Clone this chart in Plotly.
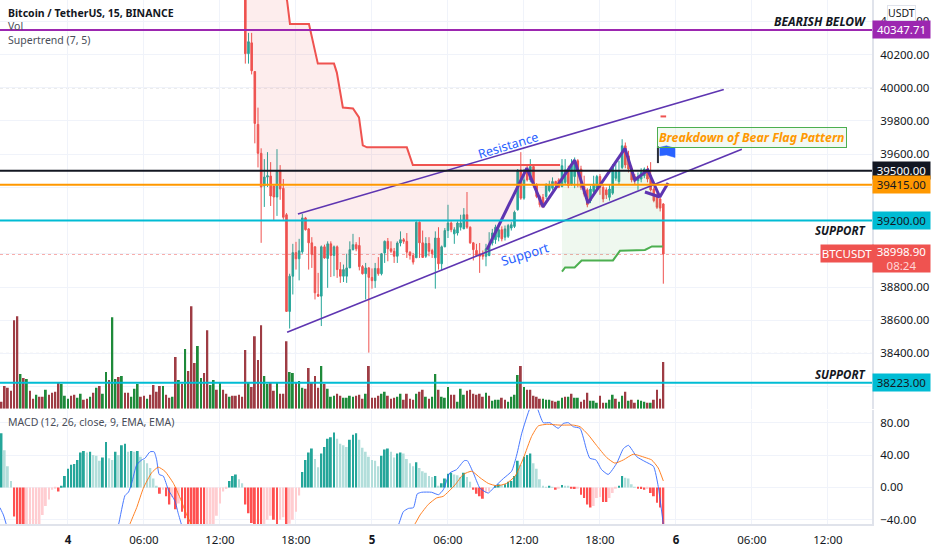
import plotly.graph_objects as go

# ---------------- data ----------------
opens = [40700,40205,40270,40097,39779,39605,39408,39462,39468,39408,39342,39498,39394,39235,38653,38865,39007,38970,39012,39216,
 39150,39066,39042,38755,38745,39042,38972,39060,38990,39042,38905,38865,38865,38915,39025,39055,39050,38923,38880,38915,
 38858,38838,38912,38880,39005,39075,39030,39015,38985,39065,39085,39075,39010,38990,38976,39190,39066,38985,39062,39020,
 38976,39095,38940,39042,39140,39185,39120,39125,39160,39150,39235,39160,39066,39020,39000,38995,38985,38990,39065,39085,
 39100,39145,39100,39105,39155,39165,39265,39504,39335,39504,39445,39525,39415,39345,39340,39345,39380,39395,39435,39445,
 39405,39430,39505,39420,39465,39560,39510,39405,39385,39320,39375,39395,39465,39400,39385,39340,39365,39455,39435,39520,
 39650,39590,39515,39465,39440,39450,39470,39510,39470,39390,39350,39330,39300]
closes = [40205,40277,40102,39785,39605,39402,39462,39470,39348,39342,39498,39390,39220,38653,38865,39007,38970,39018,39216,39145,
 39066,38995,38765,38745,39042,38975,39060,38990,39042,38905,38865,38905,38915,39025,39055,39030,38923,38880,38915,38858,
 38838,38912,38880,39000,39075,39030,39015,38985,39065,39085,39075,39010,38990,38950,39190,39066,38978,39062,39015,39000,
 39095,38940,39042,39140,39185,39145,39145,39185,39185,39235,39160,39066,39025,38990,38985,38985,39030,39050,39125,39160,
 39145,39090,39150,39170,39175,39250,39504,39335,39445,39445,39525,39415,39345,39295,39290,39415,39415,39435,39415,39400,
 39530,39505,39410,39530,39560,39505,39400,39360,39295,39390,39420,39465,39400,39330,39355,39390,39522,39495,39500,39650,
 39535,39510,39445,39440,39465,39490,39510,39450,39385,39320,39280,39275,38999]
highs = [40800,40330,40330,40100,39880,39635,39570,39612,39552,39410,39630,39534,39450,39245,38880,39060,39072,39090,39240,39222,
 39155,39100,39045,38885,39050,39055,39075,39075,39050,39050,38950,38935,39000,39075,39120,39070,39100,38932,38945,38920,
 38912,38945,38980,39005,39080,39095,39075,39035,39075,39135,39095,39125,39015,39005,39195,39195,39140,39100,39100,39030,
 39135,39160,39050,39155,39295,39195,39160,39195,39235,39275,39372,39165,39070,39060,39065,39020,39060,39130,39150,39175,
 39175,39165,39170,39180,39190,39260,39510,39612,39510,39530,39570,39530,39425,39355,39360,39425,39440,39460,39440,39455,
 39570,39570,39530,39570,39580,39570,39530,39470,39395,39410,39470,39475,39480,39420,39400,39420,39540,39540,39560,39690,
 39670,39620,39530,39480,39490,39515,39520,39530,39552,39400,39365,39340,39305]
lows = [40145,40145,40080,39665,39520,39066,39282,39402,39288,39204,39228,39325,39205,38650,38550,38755,38905,38840,39000,39140,
 38905,38915,38725,38740,38565,38970,38795,38860,38865,38855,38825,38830,38825,38915,39020,39015,38900,38875,38725,38405,
 38790,38795,38868,38870,38945,38955,39005,38945,38945,39045,39060,38975,38965,38935,38976,38975,38975,38975,38985,38975,
 38790,38905,38900,39040,39095,39130,39060,39110,39140,39150,39150,39060,38960,38985,38885,38965,38925,38985,39050,39060,
 39075,39075,39080,39095,39140,39155,39260,39325,39325,39435,39430,39400,39335,39280,39275,39330,39370,39385,39405,39395,
 39400,39420,39395,39410,39395,39400,39385,39345,39280,39305,39360,39380,39355,39310,39330,39320,39355,39440,39420,39510,
 39515,39490,39430,39420,39385,39430,39455,39430,39375,39310,39270,39255,38820]

vol_signed = [-7,-23,-21,-18,-89,-93,35,-31,30,-18,-10,14,-12,-12,19,-14,-16,-17,-26,25,13,10,-13,-14,11,15,-9,-10,12,-16,21,-23,15,37,-29,92,30,-32,33,-16,-16,12,20,25,-12,-13,10,-14,-24,-17,-23,23,-14,-11,12,-52,29,-25,60,-38,-103,-46,63,31,-36,-79,24,29,-19,27,-19,-15,12,-13,-13,-14,-12,-59,26,-22,-73,-49,-84,33,25,-27,-18,26,-15,-15,-68,37,36,-27,28,21,-20,-41,-27,-33,-21,43,-25,20,12,13,-15,
 -13,11,11,13,12,-13,-14,-10,15,-43,-11,-11,-13,15,17,-13,-10,-11,12,15,-9,-15,-10,-9,15,-17,-19,12,-10,12,35,-19,12,11,22,-14,-14,7,20,14,-18,-19,-15,-14,-15,-12,16,-13,8,9,9,-11,-9,7,12,14,34,-43,22,-19,-19,-13,-12,-10,10,9,9,-8,-7,8,11,-12,12,-15,11,11,-7,-9,-16,8,8,6,-13,-6,6,9,14,-10,7,13,-17,8,-9,-6,9,8,7,-6,6,-9,-19,-10,-47]

macd_hist = [67,46,26,8,-36,-48,-50,-52,-50,-49,-48,-47,-46,-34,-23,-15,-3,-1,-5,2,14,23,28,29,34,43,45,43,44,40,39,33,37,56,36,34,44,40,52,54,44,45,44,45,38,34,30,24,11,1,-8,-3,-11,-21,-12,-27,-20,-30,-38,-47,-50,-52,-54,-55,-56,-53,-48,-47,-35,-20,-5,-2,8,14,16,10,5,-21,-32,-44,-47,-48,-49,-47,-40,-35,-40,-47,-40,-37,-47,-45,-40,-30,-10,19,34,43,48,35,25,42,50,60,62,68,60,
 54,52,50,59,65,67,59,49,44,38,34,33,26,39,47,48,44,37,42,43,42,35,30,26,31,24,20,18,14,13,14,1,5,11,17,18,16,15,13,18,13,7,-3,-8,-11,-14,-7,-5,0,2,4,3,4,7,8,14,33,28,38,40,42,30,23,10,2,0.5,1,0.3,-3,-1,3,2,1,-1,-2,-1,-9,-13,-21,-25,-23,-13,-12,-18,-18,-13,-7,-1,2,14,12,11,4,0.5,-1,-2,-3,-2,-7,-11,-19,-25,-50]

macd_x = [-21.5,-20.4,-19.4,-18,14,15.9,18,19.1,20.1,21.7,23.3,24.3,25.9,27.2,28,28.8,30.1,31.7,33.8,34.8,35.9,38,100,104.3,105.9,107.5,109.1,110.3,111.7,114.8,117,118.5,120.6,122.7,125.1,126.1,128,130.1,132.7,134.8,137.5,140.1,141.7,143.3,145.9,147.2,148.2,150.1,152.2,154.8,156.4,158,159.6,161.7,163.8,164.8,166.7,168.5,170.6,173.3,175.4,177,179.6,182.2,184.9,186.4,188]
macd_v = [-25,-34,-47,-70,-70,-47,-10,-6,5,28,34,36,44,44,34,16,14,-3,-17,-32,-47,-80,-80,-47,-30,-26,-25,-8,-6,-6,-9,-3,18,22,33,33,18,-1,-7,1,11,20,40,67,98,104,98,80,80,73,79,80,75,73,46,36,34,22,16,30,48,52,38,32,26,1,-46]
signal_x = [17,19.4,21.7,23.8,26.4,28.5,30.6,33.3,35.4,37.5,39.1,42,103,109.3,111.2,113.8,116.4,118.5,122.2,124.8,127.5,130.1,132.7,135.4,138.5,141.2,143.8,146.4,148.5,151.2,155.4,159.6,161.7,164.3,166.9,170.1,172.7,175.4,178.5,182.2,184.3,186.4,188]
signal_v = [-80,-47,-25,-1,18,25,20,5,-13,-34,-47,-80,-80,-47,-34,-21,-13,-11,3,16,20,12,5,2,5,14,36,63,76,78,77,77,75,65,52,37,30,34,41,37,34,24,8]

st_red_x = [56,66,69.2,70.1,76.1,77.4,78.9,84,84.9,86.8,90,91.9,93.1,94.4,107,108.9,155.4]
st_red_v = [40800,40800,40522,40384,40384,40264,40145,40145,40091,39881,39875,39821,39653,39641,39641,39534,39534]
st_green_x = [156,157,160,162.2,172.1,174.3,182.2,184.4,187.8]
st_green_v = [38893,38918,38918,38960,38960,39018,39023,39044,39044]

resistance_x, resistance_v = [72.6,207.1], [39240,39989]
support_x, support_v = [69.2,212.8], [38527,39630]
zigzag_x = [132.3,144.9,150,160,164.2,175.9,179,183.1,186.9,189.5]
zigzag_v = [39025,39516,39282,39564,39306,39635,39444,39504,39342,39426]
hook_x, hook_v = [182.2,186.9], [39372,39342]
flag_x = [186.9,189,191.7,191.7,189,186.9,186.9]
flag_v = [39641,39650,39635,39580,39595,39590,39641]
pole_x, pole_v = [186.3,186.3], [39647,39546]

levels = [40347.71,39500,39415,39200,38223]
level_colors = ["#9c27b0","#131722","#ff9800","#00bcd4","#00bcd4"]
level_text = ["#ffffff","#ffffff","#131722","#131722","#131722"]
last_price = 38998.90
x_tick_vals = [0,24,48,72,96,120,144,168,192,216,240]
x_tick_text = ["<b>4</b>","06:00","12:00","18:00","<b>5</b>","06:00","12:00","18:00","<b>6</b>","06:00","12:00"]
price_ticks = [38200,38400,38600,38800,39000,39200,39400,39600,39800,40000,40200,40400]
price_tick_text = ["38200.00","38400.00","38600.00","38800.00","","","","39600.00","39800.00","40000.00","40200.00","40400.00"]
macd_ticks = [-40,0,40,80]

# ---------------- styling / layout ----------------
W, H, PR = 932, 550, 872
FONT = "Noto Sans"
INK = "#131722"
GRID = "#f0f3fa"
UP, DOWN = "#26a69a", "#ef5350"
PURPLE = "#5e35b1"

n_c = len(opens)
cx = list(range(189 - n_c, 189))
mid = [(o + c) / 2 for o, c in zip(opens, closes)]
vx = list(range(189 - len(vol_signed), 189))
hx = list(range(189 - len(macd_hist), 189))

hist_colors = []
for k, v in enumerate(macd_hist):
    prev = macd_hist[k - 1] if k else v
    if v >= 0:
        hist_colors.append("#26a69a" if v >= prev else "#b2dfdb")
    else:
        hist_colors.append("#ff5252" if v <= prev else "#ffcdd2")

fig = go.Figure()
red_mid = [(x, m) for x, m in zip(cx, mid) if x <= 155]
green_mid = [(x, m) for x, m in zip(cx, mid) if x >= 156]

fig.add_trace(go.Scatter(x=[p[0] for p in red_mid], y=[p[1] for p in red_mid], mode="lines", line=dict(width=0), hoverinfo="skip"))
fig.add_trace(go.Scatter(x=st_red_x, y=st_red_v, mode="lines", line=dict(color="rgba(0,0,0,0)", width=0), fill="tonexty", fillcolor="rgba(239,83,80,0.10)", hoverinfo="skip"))
fig.add_trace(go.Scatter(x=[p[0] for p in green_mid], y=[p[1] for p in green_mid], mode="lines", line=dict(width=0), hoverinfo="skip"))
fig.add_trace(go.Scatter(x=st_green_x, y=st_green_v, mode="lines", line=dict(color="rgba(0,0,0,0)", width=0), fill="tonexty", fillcolor="rgba(76,175,80,0.09)", hoverinfo="skip"))
fig.add_trace(go.Scatter(x=st_red_x, y=st_red_v, mode="lines", line=dict(color="#ef5350", width=2), hoverinfo="skip"))
fig.add_trace(go.Scatter(x=st_green_x, y=st_green_v, mode="lines", line=dict(color="#4caf50", width=2), hoverinfo="skip"))

fig.add_trace(go.Candlestick(x=cx, open=opens, high=highs, low=lows, close=closes,
    increasing=dict(line=dict(color=UP, width=1), fillcolor=UP),
    decreasing=dict(line=dict(color=DOWN, width=1), fillcolor=DOWN), whiskerwidth=0, hoverinfo="skip"))

fig.add_trace(go.Scatter(x=[188], y=[39827], mode="markers", marker=dict(symbol="line-ew", size=4, line=dict(color="#ef5350", width=2)), hoverinfo="skip"))
fig.add_trace(go.Scatter(x=resistance_x, y=resistance_v, mode="lines", line=dict(color=PURPLE, width=1.6), hoverinfo="skip"))
fig.add_trace(go.Scatter(x=support_x, y=support_v, mode="lines", line=dict(color=PURPLE, width=1.6), hoverinfo="skip"))
fig.add_trace(go.Scatter(x=zigzag_x, y=zigzag_v, mode="lines", line=dict(color=PURPLE, width=3), hoverinfo="skip"))
fig.add_trace(go.Scatter(x=hook_x, y=hook_v, mode="lines", line=dict(color=PURPLE, width=3), hoverinfo="skip"))
fig.add_trace(go.Scatter(x=pole_x, y=pole_v, mode="lines", line=dict(color="#2a2e39", width=2), hoverinfo="skip"))
fig.add_trace(go.Scatter(x=flag_x, y=flag_v, mode="lines", line=dict(color="#2962ff", width=0.5), fill="toself", fillcolor="#2962ff", hoverinfo="skip"))

fig.add_trace(go.Bar(x=vx, y=[abs(v) for v in vol_signed], yaxis="y3", width=0.6,
    marker=dict(color=["#1e8a3a" if v > 0 else "#9e3c44" for v in vol_signed], line=dict(width=0)), hoverinfo="skip"))

fig.add_trace(go.Bar(x=hx, y=macd_hist, yaxis="y2", width=0.62,
    marker=dict(color=hist_colors, line=dict(width=0)), hoverinfo="skip"))
fig.add_trace(go.Scatter(x=macd_x, y=macd_v, yaxis="y2", mode="lines", line=dict(color="#2962ff", width=1, shape="spline", smoothing=0.5), hoverinfo="skip", opacity=0.85))
fig.add_trace(go.Scatter(x=signal_x, y=signal_v, yaxis="y2", mode="lines", line=dict(color="#ff6d00", width=1, shape="spline", smoothing=0.5), hoverinfo="skip", opacity=0.85))

shapes = []
for v, c in zip(levels, level_colors):
    shapes.append(dict(type="line", xref="paper", yref="y", x0=0, x1=PR / W, y0=v, y1=v, line=dict(color=c, width=2)))
shapes.append(dict(type="line", xref="paper", yref="y", x0=0, x1=PR / W, y0=last_price, y1=last_price, layer="below", line=dict(color="#ef5350", width=1, dash="dot")))
for v in [40000, 38400]:
    shapes.append(dict(type="line", xref="paper", yref="y", x0=0, x1=PR / W, y0=v, y1=v, layer="below", line=dict(color="#9598a1", width=1, dash="dot")))

ann = []
def label(text, px, py, size=10.5, bold=False, color="#4a4e59"):
    ann.append(dict(xref="paper", yref="paper", x=px / W, y=1 - py / H, xanchor="left", yanchor="middle",
                    text=f"<b>{text}</b>" if bold else text, showarrow=False, font=dict(family=FONT, size=size, color=INK if bold else color)))

label("Bitcoin / TetherUS, 15, BINANCE", 6, 13, bold=True)
label("Vol", 6, 26)
label("Supertrend (7, 5)", 6, 40)
label("MACD (12, 26, close, 9, EMA, EMA)", 6, 424)

def note(text, x, y, color=INK, size=12, angle=0, **kw):
    ann.append(dict(xref="x", yref="y", x=x, y=y, text=text, showarrow=False, textangle=angle, font=dict(family=FONT, size=size, color=color), **kw))

note("<b><i>BEARISH BELOW</i></b>", 237.4, 40396, size=12)
note("<b><i>SUPPORT</i></b>", 244, 39138, size=11.5)
note("<b><i>SUPPORT</i></b>", 244, 38276, size=11.5)
note("Resistance", 138.9, 39654, color="#2962ff", angle=-17, size=12.5)
note("Support", 144.3, 39001, color="#2962ff", angle=-17, size=13)
note("<b><i>Breakdown of Bear Flag Pattern</i></b>", 216, 39702, color="#ff9800", size=12.3,
     bgcolor="rgba(76,175,80,0.07)", bordercolor="#4caf50", borderwidth=1, borderpad=1)

def chip(text, y, bg, fg, h=15, yshift=0, x0=PR, w=55):
    ann.append(dict(xref="paper", yref="y", x=x0 / W, y=y, xanchor="left", yanchor="middle", width=w, height=h, yshift=yshift,
                    text=text, showarrow=False, align="center", valign="middle", bgcolor=bg, font=dict(family=FONT, size=11.5, color=fg)))

for v, c, t in zip(levels, level_colors, level_text):
    chip(f"{v:.2f}", v, c, t)
chip(f'{last_price:.2f}<br><span style="color:#ffd6d5">08:24</span>', last_price, "#ef5350", "#ffffff", h=25, yshift=-5)
chip("BTCUSDT", last_price, "#ef5350", "#ffffff", x0=820, w=50)
ann.append(dict(xref="paper", yref="paper", x=901 / W, y=1 - 13 / H, xanchor="center", yanchor="middle", text="USDT", showarrow=False, bgcolor="#ffffff", bordercolor="#e0e3eb", borderwidth=1, borderpad=0,
                font=dict(family=FONT, size=10.5, color=INK)))

axis_font = dict(family=FONT, size=11.5, color=INK)
fig.update_layout(
    width=W, height=H, margin=dict(l=0, r=0, t=0, b=0), paper_bgcolor="#ffffff", plot_bgcolor="#ffffff",
    showlegend=False, barmode="overlay", shapes=shapes, annotations=ann, font=dict(family=FONT), hovermode=False,
    xaxis=dict(domain=[0, PR / W], range=[-21.47, 253.9], anchor="y2", tickmode="array", tickvals=x_tick_vals, ticktext=x_tick_text,
               showgrid=True, gridcolor=GRID, gridwidth=1, zeroline=False, tickfont=axis_font, ticks="outside", ticklen=4, tickcolor="#ffffff",
               showline=True, linecolor="#e0e3eb", linewidth=2, rangeslider=dict(visible=False)),
    yaxis=dict(domain=[1 - 411 / H, 1], range=[38067, 40528], side="right", anchor="x", tickmode="array", tickvals=price_ticks, ticktext=price_tick_text,
               showgrid=True, gridcolor=GRID, zeroline=False, tickfont=axis_font, ticks="outside", ticklen=4, tickcolor="#ffffff",
               showline=True, linecolor="#e0e3eb", linewidth=2),
    yaxis2=dict(domain=[(H - 527) / H, 1 - 412 / H], range=[-45.4, 96], side="right", anchor="x", tickmode="array", tickvals=macd_ticks, tickformat=".2f",
                showgrid=True, gridcolor=GRID, zeroline=False, tickfont=axis_font, ticks="outside", ticklen=4, tickcolor="#ffffff",
                showline=True, linecolor="#e0e3eb", linewidth=2),
    yaxis3=dict(overlaying="y", range=[0, 411], side="left", visible=False, showgrid=False, zeroline=False),
)

fig.write_html("out.html", config={"displayModeBar": False}, post_script="document.body.style.margin='0';document.body.style.overflow='hidden';")
